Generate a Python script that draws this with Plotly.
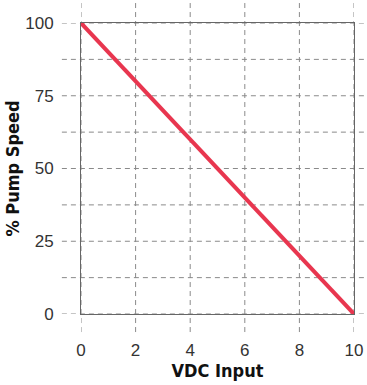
import plotly.graph_objects as go

# Data
vdc_input = [0, 10]
pump_speed = [100, 0]

x_ticks = [0, 2, 4, 6, 8, 10]
y_ticks = [0, 25, 50, 75, 100]
y_grid = [0, 12.5, 25, 37.5, 50, 62.5, 75, 87.5, 100]

fig = go.Figure()

fig.add_trace(go.Scatter(
    x=vdc_input,
    y=pump_speed,
    mode='lines',
    line=dict(color='#e8364f', width=4),
    hoverinfo='skip',
    cliponaxis=False,
))

# dashed grid that runs past the plot box
grid_style = dict(color='#8a8a8a', width=1, dash='5px,4px')
for yv in y_grid:
    fig.add_shape(type='line', xref='paper', yref='y',
                  x0=-0.07, x1=1.04, y0=yv, y1=yv,
                  line=grid_style, layer='below')
for xv in x_ticks:
    fig.add_shape(type='line', xref='x', yref='paper',
                  x0=xv, x1=xv, y0=-0.062, y1=1.069,
                  line=grid_style, layer='below')

axis_font = dict(family='Liberation Sans Narrow, DejaVu Sans Condensed, sans-serif', size=18, color='#111')

fig.update_layout(
    width=367,
    height=385,
    margin=dict(l=81, r=13, t=23, b=71),
    paper_bgcolor='white',
    plot_bgcolor='white',
    showlegend=False,
    font=dict(family='Liberation Sans, Arial, sans-serif', size=17, color='#333'),
    xaxis=dict(
        range=[0, 10],
        tickvals=x_ticks,
        showgrid=False,
        zeroline=False,
        showline=True,
        mirror=True,
        linecolor='#666',
        linewidth=1,
        ticks='outside',
        ticklen=21,
        tickcolor='rgba(0,0,0,0)',
        automargin=False,
        title=dict(text='<b>VDC Input</b>', font=axis_font, standoff=2),
    ),
    yaxis=dict(
        range=[0, 100],
        tickvals=y_ticks,
        showgrid=False,
        zeroline=False,
        showline=True,
        mirror=True,
        linecolor='#666',
        linewidth=1,
        ticks='outside',
        ticklen=23,
        tickcolor='rgba(0,0,0,0)',
        automargin=False,
        title=dict(text='<b>% Pump Speed</b>', font=axis_font, standoff=0),
    ),
)

# drop the default body margin so the figure fills the window exactly
fig.write_html("out.html", config={'displayModeBar': False},
               post_script="document.body.style.margin='0';")
